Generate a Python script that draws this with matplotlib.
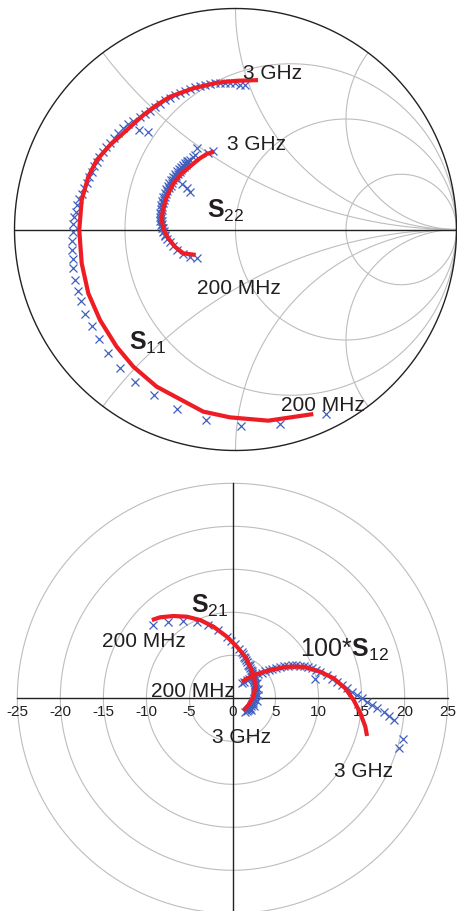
import numpy as np
import matplotlib
matplotlib.use("Agg")
import matplotlib.pyplot as plt

plt.rcParams['font.family'] = ['Liberation Sans', 'DejaVu Sans']
plt.rcParams['mathtext.fontset'] = 'custom'
plt.rcParams['mathtext.rm'] = 'Liberation Sans'
plt.rcParams['mathtext.bf'] = 'Liberation Sans:bold'

RED = '#ee1c24'
BLUE = '#4060c0'
GRID = '#bdbdbd'
TXT = '#231f20'

# ---------------- Reflection coefficients (Smith chart, Gamma plane) ----------------
# S11 model (line) 200 MHz -> 3 GHz
s11_model_re = [0.352, 0.148, -0.025, -0.146, -0.357, -0.462, -0.538, -0.613, -0.666,
                -0.696, -0.707, -0.696, -0.666, -0.628, -0.568, -0.492, -0.417, -0.357,
                -0.296, -0.191, -0.085, 0.005, 0.102]
s11_model_im = [-0.835, -0.865, -0.850, -0.824, -0.711, -0.621, -0.530, -0.410, -0.289,
                -0.153, -0.002, 0.133, 0.239, 0.314, 0.382, 0.450, 0.518, 0.563,
                0.601, 0.639, 0.664, 0.673, 0.676]
# S11 measured (markers)
s11_meas_re = [0.410, 0.201, 0.024, -0.133, -0.266, -0.369, -0.455, -0.523, -0.577, -0.618,
               -0.651, -0.680, -0.698, -0.713, -0.726, -0.734, -0.737, -0.738, -0.738, -0.737,
               -0.734, -0.731, -0.722, -0.716, -0.707, -0.696, -0.686, -0.673, -0.662, -0.651,
               -0.640, -0.628, -0.616, -0.601, -0.586, -0.568, -0.550, -0.530, -0.508, -0.485,
               -0.462, -0.435, -0.395, -0.432, -0.410, -0.387, -0.364, -0.342, -0.319, -0.296,
               -0.274, -0.251, -0.229, -0.206, -0.183, -0.161, -0.138, -0.115, -0.093, -0.070,
               -0.048, -0.025, -0.002, 0.020, 0.043]
s11_meas_im = [-0.836, -0.881, -0.889, -0.862, -0.811, -0.749, -0.691, -0.625, -0.560, -0.494,
               -0.437, -0.382, -0.325, -0.277, -0.229, -0.176, -0.135, -0.093, -0.051, -0.010,
               0.025, 0.055, 0.081, 0.111, 0.137, 0.161, 0.186, 0.212, 0.236, 0.262,
               0.287, 0.307, 0.329, 0.352, 0.372, 0.393, 0.413, 0.435, 0.458, 0.477,
               0.492, 0.450, 0.443, 0.508, 0.523, 0.538, 0.554, 0.570, 0.586, 0.597,
               0.609, 0.619, 0.628, 0.636, 0.643, 0.648, 0.654, 0.658, 0.662, 0.665,
               0.665, 0.662, 0.661, 0.656, 0.652]

# S22 model (line)
s22_model_re = [-0.180, -0.236, -0.274, -0.304, -0.324, -0.334, -0.329, -0.311, -0.281,
                -0.243, -0.198, -0.161, -0.130, -0.097]
s22_model_im = [-0.115, -0.108, -0.078, -0.040, -0.002, 0.043, 0.088, 0.148, 0.209,
                0.254, 0.292, 0.322, 0.342, 0.352]
# S22 measured (markers)
s22_meas_re = [-0.173, -0.206, -0.236, -0.263, -0.281, -0.296, -0.308, -0.317, -0.324, -0.328,
               -0.331, -0.333, -0.335, -0.335, -0.333, -0.331, -0.328, -0.324, -0.319, -0.314,
               -0.308, -0.301, -0.294, -0.287, -0.281, -0.274, -0.267, -0.260, -0.253, -0.247,
               -0.240, -0.233, -0.226, -0.219, -0.213, -0.206, -0.221, -0.243, -0.206, -0.192,
               -0.183, -0.176, -0.124, -0.100,
               -0.318, -0.327, -0.334, -0.338, -0.341, -0.342, -0.341, -0.339, -0.336, -0.332,
               -0.327, -0.321, -0.314, -0.307, -0.299, -0.291, -0.283, -0.275, -0.266, -0.257,
               -0.248, -0.238, -0.228, -0.218]
s22_meas_im = [-0.130, -0.123, -0.111, -0.093, -0.075, -0.057, -0.041, -0.025, -0.009, 0.007,
               0.023, 0.038, 0.054, 0.070, 0.086, 0.102, 0.118, 0.133, 0.147, 0.161,
               0.174, 0.188, 0.199, 0.210, 0.222, 0.233, 0.242, 0.251, 0.260, 0.269,
               0.278, 0.285, 0.292, 0.301, 0.308, 0.314, 0.186, 0.206, 0.171, 0.328,
               0.337, 0.367, 0.346, 0.357,
               -0.030, -0.012, 0.005, 0.022, 0.040, 0.058, 0.076, 0.094, 0.112, 0.130,
               0.148, 0.166, 0.183, 0.198, 0.212, 0.226, 0.239, 0.251, 0.263, 0.274,
               0.284, 0.294, 0.303, 0.312]

# Smith chart grid values
r_circles = [1 / 3, 1.0, 3.0]
x_arcs = [0.5, 1.0, 2.0, -0.5, -1.0, -2.0]

# ---------------- Transmission (polar plane) ----------------
s21_model_re = [-9.37, -8.41, -6.86, -5.30, -3.76, -2.21, -0.65, 0.51, 1.48, 2.06,
                2.52, 2.64, 2.44, 1.86, 1.28]
s21_model_im = [9.10, 9.42, 9.57, 9.49, 9.10, 8.33, 7.16, 6.00, 4.84, 3.67,
                2.51, 1.35, 0.19, -0.78, -1.44]
s21_meas_re = [-9.19, -7.44, -5.77, -4.14, -2.79, -1.63, -0.65, -0.15, 0.31, 0.72,
               1.07, 1.22, 1.36, 1.49, 1.62, 1.74, 1.85, 1.96, 2.06, 2.15, 2.23, 2.31,
               2.38, 2.44, 2.50, 2.54, 2.58, 2.61, 2.64, 2.65, 2.64, 2.62, 2.59, 2.56,
               2.52, 2.47, 2.41, 2.33, 2.23, 2.12, 2.00, 1.89, 1.77, 1.63, 1.48,
               2.00, 2.30, 2.60, 2.90, 3.00, 2.95, 2.80, 2.50, 2.10]
s21_meas_im = [8.52, 8.91, 9.02, 8.91, 8.52, 7.94, 7.16, 6.72, 6.26, 5.79,
               5.33, 5.10, 4.86, 4.63, 4.40, 4.17, 3.93, 3.70, 3.47, 3.24, 3.00, 2.77,
               2.53, 2.33, 2.13, 1.93, 1.72, 1.52, 1.31, 1.11, 0.91, 0.71, 0.50, 0.30,
               0.09, -0.11, -0.31, -0.52, -0.72, -0.90, -1.07, -1.22, -1.36, -1.50, -1.63,
               3.90, 3.20, 2.50, 1.80, 1.10, 0.40, -0.30, -0.90, -1.40]

s12x100_model_re = [1.09, 2.44, 4.38, 6.33, 8.26, 10.20, 11.74, 13.10, 14.07, 14.85, 15.43, 15.63]
s12x100_model_im = [1.93, 2.71, 3.29, 3.67, 3.67, 3.09, 2.33, 1.16, -0.20, -1.74, -3.30, -4.38]
s12x100_meas_re = [1.09, 1.36, 1.65, 1.94, 2.29, 2.64, 2.99, 3.40, 3.80, 4.21, 4.62, 5.08,
                   5.55, 6.01, 6.48, 6.94, 7.41, 7.87, 8.34, 8.80, 9.27, 9.62, 9.73, 10.20,
                   10.98, 11.56, 12.14, 12.72, 13.30, 13.88, 14.47, 15.05, 15.63, 16.21,
                   16.79, 17.56, 18.14, 18.72, 19.81, 19.30]
s12x100_meas_im = [1.74, 1.90, 2.07, 2.24, 2.42, 2.59, 2.77, 2.94, 3.12, 3.29, 3.41, 3.52,
                   3.64, 3.72, 3.79, 3.84, 3.84, 3.81, 3.76, 3.64, 3.49, 2.24, 3.29, 3.09,
                   2.71, 2.21, 1.93, 1.55, 1.16, 0.77, 0.38, 0.00, -0.40, -0.78,
                   -1.16, -1.56, -2.06, -2.52, -4.77, -5.81]

polar_rings = [5, 10, 15, 20, 25]
polar_ticks = [-25, -20, -15, -10, -5, 0, 5, 10, 15, 20, 25]

W, H = 457, 911
fig = plt.figure(figsize=(W / 100, H / 100), dpi=100)


def fig_box(x0, y0, x1, y1):
    """Pixel box (top-left origin) -> figure fraction rect."""
    return [x0 / W, (H - y1) / H, (x1 - x0) / W, (y1 - y0) / H]


# ---------------- Smith chart ----------------
ax1 = fig.add_axes(fig_box(14.5, 8.5, 456.5, 450.5))
ax1.set_xlim(-1, 1)
ax1.set_ylim(-1, 1)
ax1.axis('off')

t = np.linspace(0, 2 * np.pi, 600)
for r in r_circles:
    c = r / (1 + r)
    rad = 1 / (1 + r)
    ax1.plot(c + rad * np.cos(t), rad * np.sin(t), color=GRID, lw=0.8, clip_on=False, zorder=1)
rr = np.concatenate([np.linspace(0, 5, 400), np.logspace(np.log10(5), 4, 300)])
for x in x_arcs:
    z = rr + 1j * x
    g = (z - 1) / (z + 1)
    ax1.plot(g.real, g.imag, color=GRID, lw=0.8, clip_on=False, zorder=1)
ax1.plot(np.cos(t), np.sin(t), color='#222222', lw=1.0, clip_on=False, zorder=2)
ax1.plot([-1, 1], [0, 0], color='#222222', lw=1.0, clip_on=False, zorder=2)

mk = dict(marker='x', ls='none', color=BLUE, ms=5.5, mew=0.9, zorder=3, clip_on=False)
ax1.plot(s11_meas_re, s11_meas_im, **mk)
ax1.plot(s11_model_re, s11_model_im, '-', color=RED, lw=3.0, zorder=4, solid_capstyle='butt')
ax1.plot(s22_meas_re, s22_meas_im, **mk)
ax1.plot(s22_model_re, s22_model_im, '-', color=RED, lw=3.0, zorder=4, solid_capstyle='butt')

lab = dict(fontsize=15, color=TXT, ha='left', va='baseline', zorder=5)
ax1.text(0.034, 0.680, '3 GHz', **lab)
ax1.text(-0.038, 0.360, '3 GHz', **lab)
ax1.text(-0.174, -0.292, '200 MHz', **lab)
ax1.text(0.206, -0.821, '200 MHz', **lab)
ax1.text(-0.129, 0.055, r'$\mathbf{S}_{\mathrm{22}}$', fontsize=18, color=TXT, ha='left', va='baseline')
ax1.text(-0.482, -0.545, r'$\mathbf{S}_{\mathrm{11}}$', fontsize=18, color=TXT, ha='left', va='baseline')

# ---------------- Polar transmission chart ----------------
ax2 = fig.add_axes(fig_box(17.3, 483.3, 447.7, 913.3))
ax2.set_xlim(-25, 25)
ax2.set_ylim(-25, 25)
for s in ['top', 'right']:
    ax2.spines[s].set_visible(False)
ax2.spines['bottom'].set_position(('data', 0))
ax2.spines['left'].set_position(('data', 0))
for s in ['bottom', 'left']:
    ax2.spines[s].set_color('#222222')
    ax2.spines[s].set_linewidth(1.0)
ax2.set_xticks(polar_ticks)
ax2.set_xticklabels([str(v) for v in polar_ticks])
ax2.tick_params(axis='x', length=0, pad=5, labelsize=11, labelcolor=TXT)
ax2.set_yticks([])
ax2.patch.set_visible(False)

for rad in polar_rings:
    ax2.plot(rad * np.cos(t), rad * np.sin(t), color=GRID, lw=0.8, clip_on=False, zorder=1)

ax2.plot(s21_meas_re, s21_meas_im, **mk)
ax2.plot(s21_model_re, s21_model_im, '-', color=RED, lw=3.0, zorder=4, solid_capstyle='butt')
ax2.plot(s12x100_meas_re, s12x100_meas_im, **mk)
ax2.plot(s12x100_model_re, s12x100_model_im, '-', color=RED, lw=3.0, zorder=4, solid_capstyle='butt')

ax2.text(-4.80, 9.92, r'$\mathbf{S}_{\mathrm{21}}$', fontsize=18, color=TXT, ha='left', va='baseline')
ax2.text(7.87, 4.80, r'$\mathrm{100}$*$\mathbf{S}_{\mathrm{12}}$', fontsize=18, color=TXT,
         ha='left', va='baseline')
ax2.text(-15.15, 5.97, '200 MHz', **lab)
ax2.text(-9.45, 0.12, '200 MHz', **lab)
ax2.text(-2.36, -5.20, '3 GHz', **lab)
ax2.text(11.83, -9.15, '3 GHz', **lab)

fig.savefig('out.png', dpi=100)
